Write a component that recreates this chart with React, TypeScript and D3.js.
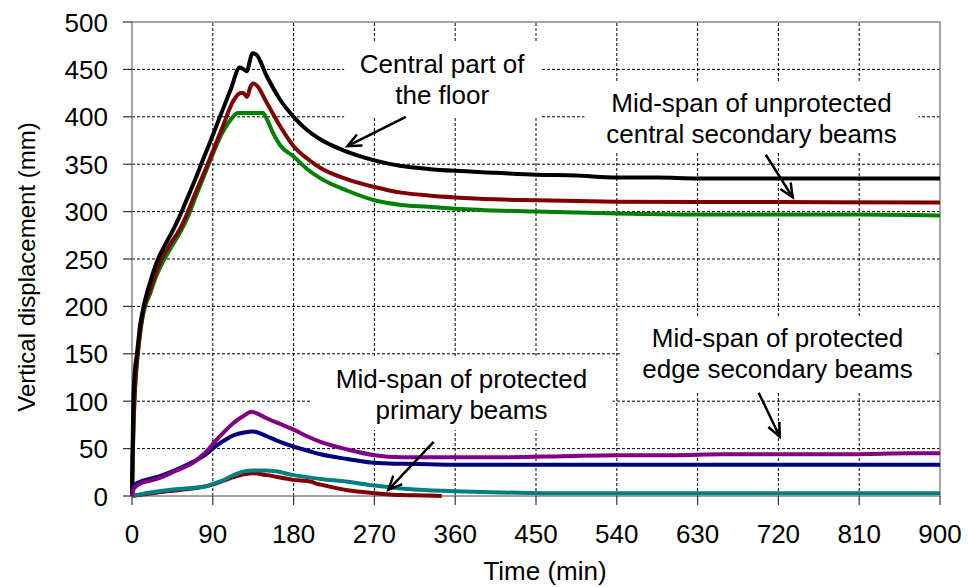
import React from 'react';
import * as d3 from 'd3';

// ---------- data ----------
const xTicks = [0, 90, 180, 270, 360, 450, 540, 630, 720, 810, 900];
const yTicks = [0, 50, 100, 150, 200, 250, 300, 350, 400, 450, 500];

// Central part of the floor (black)
const floorT = [0, 0.5, 1.5, 3, 5.5, 9, 13, 20, 29, 38, 46, 53, 62, 70, 80, 91, 100, 110, 120, 126, 128, 131, 134, 138, 150, 165, 180, 195, 210, 240, 270, 300, 330, 360, 405, 450, 495, 540, 585, 630, 700, 900];
const floorV = [0, 40, 100, 130, 150, 180, 200, 225, 250, 267, 281, 295, 315, 333, 357, 383, 405, 429, 452, 449, 448, 458, 467, 466, 443, 418, 400, 386, 376, 363, 354, 348, 345, 343, 341, 339, 338, 336, 336, 335, 335, 335];

// Mid-span of unprotected central secondary beams (dark red)
const centralT = [0, 1, 2.6, 4, 6.3, 10, 13.7, 20, 27, 33, 42, 53, 61, 70, 79, 91, 100, 113, 121, 124, 128, 132, 135, 139, 150, 165, 180, 195, 210, 240, 270, 300, 330, 360, 405, 450, 540, 630, 720, 900];
const centralV = [0, 50, 100, 125, 150, 180, 200, 217, 236, 250, 265, 281, 297, 318, 338, 366, 387, 417, 425, 425, 421, 432, 435, 433, 415, 390, 369, 356, 346, 334, 326, 320, 317, 315, 313, 312, 310.5, 310, 310, 309.5];

// Third upper curve (green)
const greenT = [0, 1, 2.6, 4, 6.3, 10, 14, 20, 27, 35, 44, 53, 62, 71, 80, 91, 100, 110, 118, 146, 150, 157, 165, 180, 195, 210, 240, 270, 300, 330, 360, 450, 540, 630, 720, 810, 900];
const greenV = [0, 48, 98, 122, 148, 178, 198, 213, 232, 248, 263, 277, 294, 316, 337, 363, 382, 397, 404, 404, 398, 383, 370, 358, 345, 335, 322, 312, 307, 305, 303, 300, 298, 297, 297, 297, 296];

// Mid-span of protected edge secondary beams (purple)
const edgeT = [0, 1, 3, 9, 20, 31, 45, 57, 68, 76, 85, 91, 100, 113, 125, 133, 137, 150, 165, 180, 195, 210, 240, 270, 300, 360, 420, 480, 540, 600, 660, 720, 800, 870, 900];
const edgeV = [0, 5, 9, 13, 16, 19, 25, 30, 35, 41, 49, 56, 65, 77, 85, 89, 88, 82, 76, 70, 63, 57, 49, 43, 41, 41, 41, 42, 43, 43, 44, 44, 44, 45, 45];

// Navy curve
const navyT = [0, 1, 3, 9, 20, 31, 45, 57, 68, 76, 85, 91, 100, 113, 125, 135, 140, 150, 165, 180, 195, 210, 240, 270, 300, 330, 360, 900];
const navyV = [0, 8, 12, 15, 18, 21, 26, 31, 36, 40, 46, 51, 57, 64, 67, 68, 67, 63, 57, 52, 48, 44, 39, 35, 34, 33.5, 33, 33];

// Teal curve
const tealT = [0, 10, 30, 60, 82, 91, 100, 113, 125, 135, 150, 160, 180, 210, 240, 270, 300, 330, 360, 400, 460, 900];
const tealV = [0, 2, 5, 8, 10, 13, 16, 22, 26, 27, 27, 26, 22, 18, 15, 11, 8, 6, 5, 4, 3, 3];

// Mid-span of protected primary beams (dark red, lower)
const primaryT = [0, 30, 60, 90, 113, 125, 135, 150, 180, 200, 205, 210, 240, 270, 300, 330, 345];
const primaryV = [0, 4, 7, 12, 20, 23, 24, 22, 17, 15, 13, 12, 6, 3, 1, 0.5, 0];

// annotation texts
const annFloor = ['Central part of', 'the floor'];
const annCentral = ['Mid-span of unprotected', 'central secondary beams'];
const annPrimary = ['Mid-span of protected', 'primary beams'];
const annEdge = ['Mid-span of protected', 'edge secondary beams'];

// ---------- layout ----------
const W = 968;
const H = 587;
const FONT = "Arial, 'Liberation Sans', sans-serif";

const series = [
  { t: greenT, v: greenV, color: '#008000' },
  { t: centralT, v: centralV, color: '#800000' },
  { t: floorT, v: floorV, color: '#000000' },
  { t: primaryT, v: primaryV, color: '#800000' },
  { t: tealT, v: tealV, color: '#008080' },
  { t: navyT, v: navyV, color: '#000080' },
  { t: edgeT, v: edgeV, color: '#800080' },
];

// anchors in data coordinates: text center t, first baseline v; box half width px; arrow from/to in data coords
const annotations = [
  { lines: annFloor, t: 345.5, v: 446.5, half: 98, box: [43, 118], arrow: [[305, 400], [240, 369]] },
  { lines: annCentral, t: 690, v: 405.5, half: 167, box: [82, 152], arrow: [[706, 360], [736, 315]] },
  { lines: annPrimary, t: 367, v: 114, half: 151, box: [358, 430], arrow: [[336, 57], [285.5, 6.5]] },
  { lines: annEdge, t: 719, v: 157, half: 157, box: [318, 392], arrow: [[698, 109], [721.5, 62.5]] },
];

export default function App() {
  const x = d3.scaleLinear().domain([0, 900]).range([132, 940]);
  const y = d3.scaleLinear().domain([0, 500]).range([496, 22]);

  const line = d3
    .line<[number, number]>()
    .x((d) => x(d[0]))
    .y((d) => y(d[1]))
    .curve(d3.curveMonotoneX);

  const arrowPath = (from: number[], to: number[]) => {
    const x1 = x(from[0]), y1 = y(from[1]);
    const x2 = x(to[0]), y2 = y(to[1]);
    const ang = Math.atan2(y2 - y1, x2 - x1);
    const L = 15, a = (24 * Math.PI) / 180;
    const lx = x2 - L * Math.cos(ang - a), ly = y2 - L * Math.sin(ang - a);
    const rx = x2 - L * Math.cos(ang + a), ry = y2 - L * Math.sin(ang + a);
    return {
      shaft: `M${x1},${y1}L${x2},${y2}`,
      head: `M${lx},${ly}L${x2},${y2}L${rx},${ry}`,
    };
  };

  return (
    <svg
      width={W}
      height={H}
      style={{ position: 'absolute', left: 0, top: 0, background: '#fff' }}
      fontFamily={FONT}
    >
      <rect x={0} y={0} width={W} height={H} fill="#fff" />
      {/* grid */}
      {yTicks.slice(1, -1).map((v) => (
        <line key={'gy' + v} x1={x(0)} x2={x(900)} y1={y(v)} y2={y(v)} stroke="#000" strokeWidth={1} strokeDasharray="3,2" />
      ))}
      {xTicks.slice(1, -1).map((t) => (
        <line key={'gx' + t} x1={x(t)} x2={x(t)} y1={y(0)} y2={y(500)} stroke="#000" strokeWidth={1} strokeDasharray="3,2" />
      ))}
      {/* annotation boxes */}
      {annotations.map((a, i) => (
        <rect key={'box' + i} x={x(a.t) - a.half} y={a.box[0]} width={a.half * 2} height={a.box[1] - a.box[0]} fill="#fff" />
      ))}
      {/* plot border */}
      <rect x={x(0)} y={y(500)} width={x(900) - x(0)} height={y(0) - y(500)} fill="none" stroke="#868686" strokeWidth={1.5} />
      {/* ticks */}
      {yTicks.map((v) => (
        <line key={'ty' + v} x1={x(0) - 9} x2={x(0)} y1={y(v)} y2={y(v)} stroke="#333" strokeWidth={1.2} />
      ))}
      {xTicks.map((t) => (
        <line key={'tx' + t} x1={x(t)} x2={x(t)} y1={y(0)} y2={y(0) + 9} stroke="#333" strokeWidth={1.2} />
      ))}
      {/* series */}
      {series.map((s, i) => (
        <path
          key={'s' + i}
          d={line(s.t.map((t, j) => [t, s.v[j]] as [number, number])) || ''}
          fill="none"
          stroke={s.color}
          strokeWidth={4}
          strokeLinejoin="round"
        />
      ))}
      {/* tick labels */}
      {yTicks.map((v) => (
        <text key={'ly' + v} x={108} y={y(v) + 9.5} fontSize={26} textAnchor="end" fill="#000">
          {v}
        </text>
      ))}
      {xTicks.map((t) => (
        <text key={'lx' + t} x={x(t)} y={543} fontSize={26} textAnchor="middle" fill="#000">
          {t}
        </text>
      ))}
      {/* axis titles */}
      <text transform="translate(35,267) rotate(-90)" fontSize={24} textAnchor="middle" fill="#000">
        Vertical displacement (mm)
      </text>
      <text x={545} y={580} fontSize={26} textAnchor="middle" fill="#000">
        Time (min)
      </text>
      {/* annotations */}
      {annotations.map((a, i) => {
        const ar = arrowPath(a.arrow[0], a.arrow[1]);
        return (
          <g key={'ann' + i}>
            {a.lines.map((l, k) => (
              <text key={k} x={x(a.t)} y={y(a.v) + k * 31} fontSize={26} textAnchor="middle" fill="#000">
                {l}
              </text>
            ))}
            <path d={ar.shaft} stroke="#000" strokeWidth={2.5} fill="none" />
            <path d={ar.head} stroke="#000" strokeWidth={2.5} fill="none" strokeLinejoin="miter" />
          </g>
        );
      })}
    </svg>
  );
}
